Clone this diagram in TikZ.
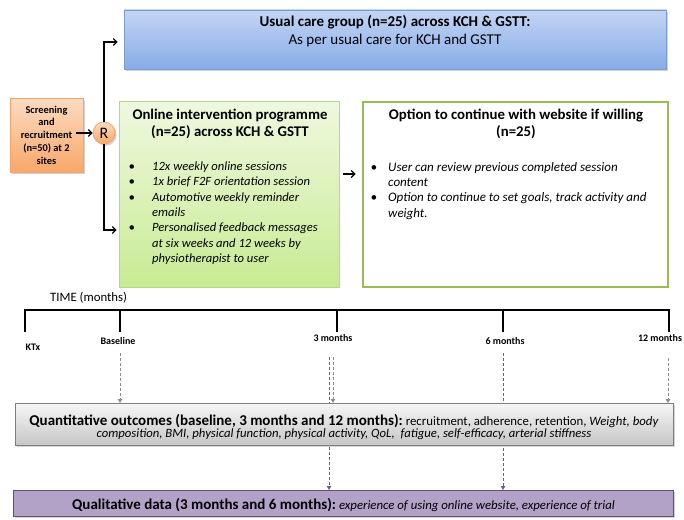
\documentclass[tikz,border=0pt]{standalone}
\usepackage{fontspec}
\setmainfont{Carlito}
\usetikzlibrary{arrows.meta,shadows,calc,backgrounds}

\definecolor{bluetop}{HTML}{C3D5F4}
\definecolor{bluebot}{HTML}{86ACE8}
\definecolor{blueedge}{HTML}{7C9CCB}
\definecolor{orangetop}{HTML}{FCDCC2}
\definecolor{orangebot}{HTML}{F8A769}
\definecolor{orangeedge}{HTML}{F2A46A}
\definecolor{greentop}{HTML}{EFF8DF}
\definecolor{greenbot}{HTML}{C8EB93}
\definecolor{greenedge}{HTML}{B9D690}
\definecolor{optedge}{HTML}{9BBB59}
\definecolor{greytop}{HTML}{F6F6F6}
\definecolor{greybot}{HTML}{C6C6C6}
\definecolor{greyedge}{HTML}{7F7F7F}
\definecolor{qualfill}{HTML}{B3A2C7}
\definecolor{qualedge}{HTML}{5F5070}
\definecolor{dashgrey}{HTML}{8C8C8C}
\definecolor{dashpurple}{HTML}{6B5A96}

\begin{document}
\begin{tikzpicture}[x=1pt,y=-1pt,
  shadowed/.style={drop shadow={opacity=0.35,shadow xshift=1.6pt,shadow yshift=-1.8pt}},
  box/.style={rectangle,inner sep=0pt},
  blackarrow/.style={line width=1.2pt,-{Straight Barb[length=3.5pt,width=7pt,line width=1.2pt]}},
  greyarrow/.style={dashgrey,line width=1pt,dash pattern=on 3pt off 2pt,-{Triangle[length=4pt,width=4.5pt]}},
  purplearrow/.style={dashpurple,line width=1pt,dash pattern=on 3pt off 2pt,-{Triangle[length=4pt,width=4.5pt]}},
  tick/.style={font=\fontsize{10}{12}\selectfont\bfseries},
  bullets/.style={anchor=base west,inner sep=0pt}
]
\useasboundingbox (0,0) rectangle (684,519);

% --- usual care arm
\node[box,shadowed,draw=blueedge,line width=0.8pt,top color=bluetop,bottom color=bluebot,
      minimum width=542pt,minimum height=59pt] (usual) at (395,39.5) {};
\node[anchor=base,inner sep=0pt,align=center,font=\fontsize{15}{18}\selectfont] (usualtxt) at (395,44.5)
  {\textbf{Usual care group (n=25) across KCH \& GSTT:}\\As per usual care for KCH and GSTT};

% --- screening and randomisation
\node[box,shadowed,draw=orangeedge,line width=0.8pt,top color=orangetop,bottom color=orangebot,
      minimum width=73pt,minimum height=74pt,align=center,
      font=\fontsize{10.4}{12.8}\selectfont\bfseries] (screen) at (46.5,135)
  {Screening\\and\\recruitment\\(n=50) at 2\\sites};
\node[circle,shadowed,draw=orangeedge,line width=0.8pt,top color=orangetop,bottom color=orangebot,
      minimum size=22pt,inner sep=0pt,font=\fontsize{16}{18}\selectfont] (R) at (104,133) {R};

% --- online intervention arm
\node[box,draw=greenedge,line width=0.8pt,top color=greentop,bottom color=greenbot,
      minimum width=220pt,minimum height=186pt] (online) at (229,194) {};
\node[anchor=base,inner sep=0pt,align=center,font=\fontsize{14.8}{17}\selectfont\bfseries] (onlinetitle) at (230,136.5)
  {Online intervention programme\\(n=25) across KCH \& GSTT};
\node[bullets,font=\fontsize{12.6}{15.3}\selectfont\itshape] (onlinelist) at (128.5,170.5)
  {\begin{tabular}[t]{@{}p{23.5pt}@{}l@{}}
   • & 12x weekly online sessions\\
   • & 1x brief F2F orientation session\\
   • & Automotive weekly reminder\\
     & emails\\
   • & Personalised feedback messages\\
     & at six weeks and 12 weeks by\\
     & physiotherapist to user
   \end{tabular}};

% --- continuation option
\node[box,draw=optedge,line width=2pt,fill=white,
      minimum width=305pt,minimum height=185pt] (option) at (515,194.5) {};
\node[anchor=base,inner sep=0pt,align=center,font=\fontsize{14.8}{17}\selectfont\bfseries] (optiontitle) at (516,136.5)
  {Option to continue with website if willing\\(n=25)};
\node[bullets,font=\fontsize{13}{15.2}\selectfont\itshape] (optionlist) at (370.5,171.5)
  {\begin{tabular}[t]{@{}p{17.5pt}@{}l@{}}
   • & User can review previous completed session\\
     & content\\
   • & Option to continue to set goals, track activity and\\
     & weight.
   \end{tabular}};

% --- arrows between arms
\draw[blackarrow] ($(screen.east)+(-7,-2)$) -- (R.west);
\draw[blackarrow] (R.north) |- ($(usual.west)+(-6,2.5)$);
\draw[blackarrow] (R.south) |- ($(online.west)+(-2,36)$);
\draw[blackarrow] ($(online.east)+(4,-20)$) -- ($(option.west)+(-6,-20.5)$);

% --- time axis
\node[anchor=base west,inner sep=0pt,font=\fontsize{12.8}{15}\selectfont] (timelabel) at (50,301.5) {TIME (months)};
\coordinate (k0) at (25,332);
\coordinate (k1) at (120,332);
\coordinate (k2) at (337,332);
\coordinate (k3) at (503,332);
\coordinate (k4) at (669,332);
\coordinate (a0) at (25,310);
\coordinate (a4) at (669,310);
\draw[line width=2.6pt,line join=miter] (k0) -- (a0) -- (a4) -- (k4);
\foreach \k in {k1,k2,k3} \draw[line width=2.6pt] (\k |- a0) -- (\k);

\node[tick] (ktx) at (33,347) {KTx};
\node[tick] (base) at (118,341) {Baseline};
\node[tick] (m3) at (333,338) {3 months};
\node[tick] (m6) at (505,341) {6 months};
\node[tick] (m12) at (660,338) {12 months};

% --- measurement points
\coordinate (s0) at (120,353);
\coordinate (s3g) at (333,357);
\coordinate (s3p) at (329,357);
\coordinate (s6) at (503,353);
\coordinate (s12) at (668,358);
\coordinate (quanttop) at (0,403);
\coordinate (qualtop) at (0,490);

% the purple lines run behind the quantitative box
\draw[purplearrow] (s3p) -- (s3p |- qualtop);
\draw[purplearrow] (s6) -- (s6 |- qualtop);

% --- outcome boxes
\node[box,shadowed,draw=greyedge,line width=0.8pt,top color=greytop,bottom color=greybot,
      minimum width=658pt,minimum height=42pt,anchor=north] (quant) at (344,403) {};
\node[anchor=base,inner sep=0pt,align=center] (quanttxt) at (344,437)
  {{\fontsize{15}{16}\selectfont\bfseries Quantitative outcomes (baseline, 3 months and 12 months):}
   {\fontsize{12.8}{16}\selectfont recruitment, adherence, retention, \textit{Weight, body}}\\
   {\fontsize{12.7}{16}\selectfont\itshape composition, BMI, physical function, physical activity, QoL,\ \ fatigue, self-efficacy,\ arterial stiffness}};

\node[box,shadowed,draw=qualedge,line width=0.8pt,fill=qualfill,
      minimum width=660pt,minimum height=26pt,anchor=north] (qual) at (343,490) {};
\node[anchor=base,inner sep=0pt] (qualtxt) at (343.5,509)
  {{\fontsize{15}{16}\selectfont\bfseries Qualitative data (3 months and 6 months):}
   {\fontsize{12.8}{16}\selectfont\itshape experience of using online website, experience of trial}};

\draw[greyarrow] (s0) -- (s0 |- quant.north);
\draw[greyarrow] (s3g) -- (s3g |- quant.north);
\draw[greyarrow] (s12) -- (s12 |- quant.north);
\end{tikzpicture}
\end{document}
